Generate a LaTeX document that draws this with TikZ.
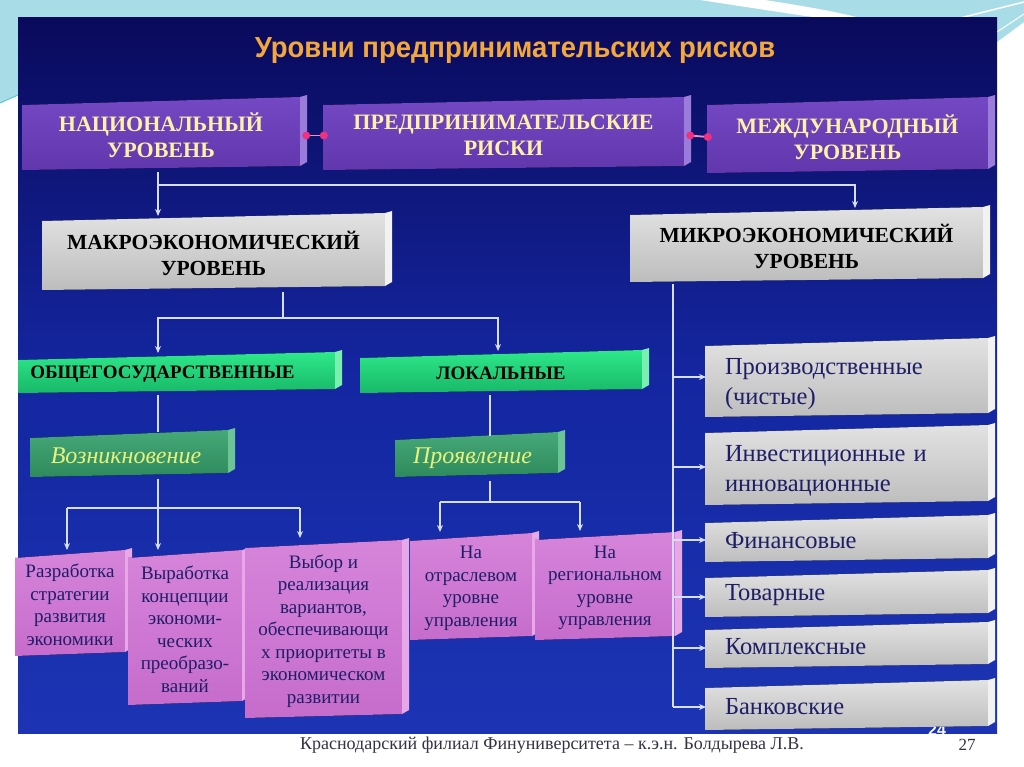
\documentclass[tikz,border=0pt]{standalone}
\usepackage{fontspec}
\setmainfont{Liberation Serif}
\newfontfamily\sansf{Liberation Sans}
\usetikzlibrary{arrows.meta,calc}
\definecolor{deco}{HTML}{A8DCE6}
\definecolor{decoD}{HTML}{5CC8D8}
\definecolor{navyA}{HTML}{0A0A5C}
\definecolor{navyB}{HTML}{1C34B4}
\definecolor{navyM}{HTML}{1426A0}
\definecolor{purp}{HTML}{7448C4}
\definecolor{purpD}{HTML}{6236AC}
\definecolor{purpB}{HTML}{9C7CDA}
\definecolor{yel}{HTML}{FFF0A8}
\definecolor{grayA}{HTML}{E2E2E2}
\definecolor{grayB}{HTML}{BDBDBD}
\definecolor{grayE}{HTML}{F2F2F2}
\definecolor{grnA}{HTML}{2EE88A}
\definecolor{grnB}{HTML}{18B868}
\definecolor{grnE}{HTML}{7AF0B0}
\definecolor{gdA}{HTML}{46A878}
\definecolor{gdB}{HTML}{2E8A5C}
\definecolor{gdE}{HTML}{6CC496}
\definecolor{gtext}{HTML}{E8F27A}
\definecolor{pinkA}{HTML}{D684DA}
\definecolor{pinkB}{HTML}{C66CCC}
\definecolor{pinkE}{HTML}{E8A8E8}
\definecolor{ptext}{HTML}{1E1E66}
\definecolor{ttl}{HTML}{F2A83A}
\definecolor{lnc}{HTML}{D6DEFF}
\definecolor{mag}{HTML}{F03080}
\definecolor{foot}{HTML}{333344}
\newcommand\bx[9]{%
 \fill[#6] (#2,#3+8) -- (#4,#3) -- (#4,#5-4) -- (#2,#5) -- cycle;
 \fill[#7] (#4,#3) -- (#4+7,#3-2) -- (#4+7,#5-8) -- (#4,#5-4) -- cycle;
 \node[#8, minimum width={#4-#2}, minimum height={#5-#3}] (#1) at ({(#2+#4)/2},{(#3+#5)/2+2}) {#9};
}
\tikzset{
 conn/.style={draw=lnc, line width=1.2pt},
 arr/.style={conn, -{Stealth[length=7pt,width=6pt]}},
 dbl/.style={draw=mag!55!white, line width=1.8pt},
 blob/.style={fill=mag},
 purptxt/.style={text=yel, font=\bfseries\fontsize{22}{26}\selectfont, align=center, inner sep=0pt},
 graytxt/.style={text=black, font=\bfseries\fontsize{21.5}{26}\selectfont, align=center, inner sep=0pt},
 grntxt/.style={text=black, font=\bfseries\fontsize{19}{22}\selectfont, align=center, inner sep=0pt},
 gdtxt/.style={text=gtext, font=\itshape\fontsize{24}{26}\selectfont, align=center, inner sep=0pt},
 pinktxt/.style={text=ptext, font=\fontsize{19}{22.5}\selectfont, align=center, inner sep=0pt},
 righttxt/.style={text=ptext, font=\fontsize{24.5}{30}\selectfont, align=left, text width=243pt, inner sep=0pt},
}
\begin{document}
\begin{tikzpicture}[x=1pt,y=-1pt]
\useasboundingbox (0,0) rectangle (1024,767);
\fill[white] (0,0) rectangle (1024,767);
% top decoration
\fill[deco] (0,0) rectangle (1024,18);
\fill[deco] (0,0) -- (18,0) -- (18,95) -- (0,103) -- cycle;
\draw[decoD, line width=1pt] (0,103) -- (18,95);
\fill[deco] (997,0) -- (1024,0) -- (1024,22) -- (997,42) -- cycle;
\draw[white, line width=1.5pt] (960,18) -- (1024,2);
\draw[white, line width=1pt] (997,32) -- (1024,14);
\fill[white] (700,0) .. controls (740,6) and (790,14) .. (820,18) -- (860,18) .. controls (830,10) and (790,4) .. (765,0) -- cycle;
% panel
\shade[top color=navyA, bottom color=navyB, middle color=navyM] (18,18) rectangle (997,733);
% title
\node[text=ttl, inner sep=0pt] (title) at (515,51) {\resizebox*{520pt}{26pt}{\sansf\bfseries Уровни предпринимательских рисков}};
% top row
\bx{nat}{22}{97}{300}{170}{top color=purp,bottom color=purpD}{purpB}{purptxt}{НАЦИОНАЛЬНЫЙ\\УРОВЕНЬ}
\bx{ent}{323}{97}{684}{170}{top color=purp,bottom color=purpD}{purpB}{purptxt}{ПРЕДПРИНИМАТЕЛЬСКИЕ\\РИСКИ}
\bx{int}{707}{97}{988}{173}{top color=purp,bottom color=purpD}{purpB}{purptxt}{МЕЖДУНАРОДНЫЙ\\УРОВЕНЬ}
\path (nat.east) ++(6,0) coordinate (na) (ent.west) ++(1,0) coordinate (eb);
\path (ent.east) ++(6,0) coordinate (ea) (int.west) ++(1,0) coordinate (ib);
\draw[dbl] (na) -- (eb);
\draw[dbl] (ea) -- (ib);
\fill[blob] (na) circle (4) (eb) circle (4) (ea) circle (4) (ib) circle (4);
% macro / micro
\bx{mac}{42}{213}{385}{290}{top color=grayA,bottom color=grayB}{grayE}{graytxt}{МАКРОЭКОНОМИЧЕСКИЙ\\УРОВЕНЬ}
\bx{mic}{630}{207}{983}{282}{top color=grayA,bottom color=grayB}{grayE}{graytxt}{МИКРОЭКОНОМИЧЕСКИЙ\\УРОВЕНЬ}
\coordinate (j1) at (158,185);
\draw[conn] (158,0 |- nat.south) -- (j1);
\draw[arr] (j1) -- (158,216);
\draw[arr] (j1) -| (855,208);
% green
\bx{gen}{18}{352}{335}{393}{top color=grnA,bottom color=grnB}{grnE}{grntxt,xshift=-14pt}{ОБЩЕГОСУДАРСТВЕННЫЕ}
\bx{loc}{360}{350}{642}{393}{top color=grnA,bottom color=grnB}{grnE}{grntxt}{ЛОКАЛЬНЫЕ}
\coordinate (j2) at (283,318);
\draw[conn] (283,0 |- mac.south) -- (j2);
\draw[arr] (j2) -| (158,353);
\draw[arr] (j2) -| (498,351);
\bx{voz}{30}{430}{228}{477}{top color=gdA,bottom color=gdB}{gdE}{gdtxt,xshift=-3pt}{Возникновение}
\bx{pro}{395}{432}{558}{477}{top color=gdA,bottom color=gdB}{gdE}{gdtxt,xshift=-4pt,yshift=-2pt}{Проявление}
\draw[conn] (158,0 |- gen.south) -- (158,0 |- voz.north);
\draw[conn] (490,0 |- loc.south) -- (490,0 |- pro.north);
% pink
\bx{p1}{15}{550}{125}{656}{top color=pinkA,bottom color=pinkB}{pinkE}{pinktxt}{Разработка\\стратегии\\развития\\экономики}
\bx{p2}{128}{550}{242}{705}{top color=pinkA,bottom color=pinkB}{pinkE}{pinktxt}{Выработка\\концепции\\экономи-\\ческих\\преобразо-\\ваний}
\bx{p3}{245}{540}{402}{718}{top color=pinkA,bottom color=pinkB}{pinkE}{pinktxt}{Выбор и\\реализация\\вариантов,\\обеспечивающи\\х приоритеты в\\экономическом\\развитии}
\bx{p4}{410}{533}{532}{640}{top color=pinkA,bottom color=pinkB}{pinkE}{pinktxt}{На\\отраслевом\\уровне\\управления}
\bx{p5}{535}{532}{675}{640}{top color=pinkA,bottom color=pinkB}{pinkE}{pinktxt}{На\\региональном\\уровне\\управления}
\coordinate (j3) at (158,508);
\draw[conn] (158,0 |- voz.south) -- (j3);
\draw[conn] (67,508) -- (300,508);
\draw[arr] (67,508) -- (67,550);
\draw[arr] (j3) -- (158,550);
\draw[arr] (300,508) -- (300,538);
\coordinate (j4) at (490,502);
\draw[conn] (490,0 |- pro.south) -- (j4);
\draw[conn] (440,502) -- (580,502);
\draw[arr] (440,502) -- (440,532);
\draw[arr] (580,502) -- (580,531);
% right column
\begin{scope}
\clip (18,18) rectangle (997,733);
\node[text=white!85!lnc, font=\sansf\bfseries\fontsize{16}{16}\selectfont] (num) at (937,730) {24};
\end{scope}
\bx{r1}{705}{338}{988}{417}{top color=grayA,bottom color=grayB}{grayE}{righttxt,yshift=-5pt}{Производственные\\(чистые)}
\bx{r2}{705}{425}{988}{505}{top color=grayA,bottom color=grayB}{grayE}{righttxt,yshift=-4pt}{Инвестиционные и\\инновационные}
\bx{r3}{705}{515}{988}{562}{top color=grayA,bottom color=grayB}{grayE}{righttxt}{Финансовые}
\bx{r4}{705}{570}{988}{617}{top color=grayA,bottom color=grayB}{grayE}{righttxt}{Товарные}
\bx{r5}{705}{622}{988}{668}{top color=grayA,bottom color=grayB}{grayE}{righttxt}{Комплексные}
\bx{r6}{705}{680}{988}{730}{top color=grayA,bottom color=grayB}{grayE}{righttxt}{Банковские}
\draw[conn] (673,0 |- mic.south) -- (673,707);
\foreach \r/\yy in {r1/377,r2/467,r3/540,r4/597,r5/648,r6/707}
  \draw[arr] (673,\yy) -- (706,\yy);
% footer
\node[text=foot, font=\fontsize{18}{20}\selectfont] (ft) at (552,745) {Краснодарский филиал Финуниверситета – к.э.н. Болдырева Л.В.};
\node[text=foot, font=\fontsize{17}{20}\selectfont] (pg) at (967,745) {27};
\end{tikzpicture}
\end{document}
